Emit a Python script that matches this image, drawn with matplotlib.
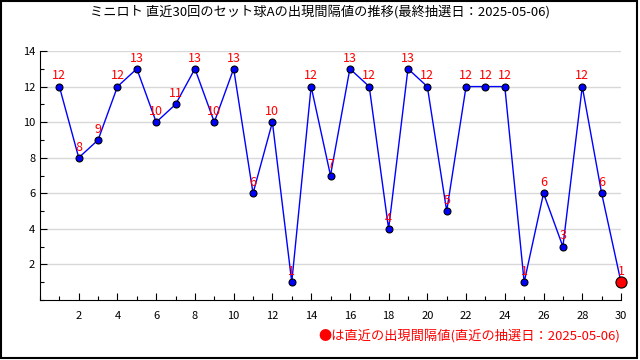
import matplotlib.pyplot as plt
from matplotlib.ticker import MultipleLocator
from matplotlib.patches import Rectangle

plt.rcParams['font.family'] = ['Noto Sans CJK JP', 'DejaVu Sans']

draw_no = list(range(1, 31))
interval = [12, 8, 9, 12, 13, 10, 11, 13, 10, 13, 6, 10, 1, 12, 7,
            13, 12, 4, 13, 12, 5, 12, 12, 12, 1, 6, 3, 12, 6, 1]
title = "ミニロト 直近30回のセット球Aの出現間隔値の推移(最終抽選日：2025-05-06)"
note = "●は直近の出現間隔値(直近の抽選日：2025-05-06)"

fig = plt.figure(figsize=(6.4, 3.6), dpi=100)
ax = fig.add_axes([40 / 640, 1 - 300 / 360, 581 / 640, 249 / 360])

# outer frame round the whole picture
fig.patches.append(Rectangle((0.8 / 640, 2 / 360), 636 / 640, 357 / 360,
                             transform=fig.transFigure, fill=False,
                             edgecolor='black', linewidth=1.5))

ax.plot(draw_no, interval, color='blue', linewidth=1, zorder=3)
ax.plot(draw_no[:-1], interval[:-1], 'o', color='blue', markeredgecolor='black',
        markersize=5, markeredgewidth=0.8, zorder=4)
ax.plot(draw_no[-1:], interval[-1:], 'o', color='red', markeredgecolor='black',
        markersize=8, markeredgewidth=0.8, zorder=5, clip_on=False)

for x, y in zip(draw_no, interval):
    ax.annotate(str(y), (x, y), xytext=(0, 3), textcoords='offset points',
                ha='center', va='bottom', color='red', fontsize=9, zorder=6)

ax.set_xlim(0, 30)
ax.set_ylim(0, 14)
ax.set_xticks(list(range(2, 31, 2)))
ax.xaxis.set_minor_locator(MultipleLocator(1))
ax.set_yticks([2, 4, 6, 8, 10, 12, 14])
ax.yaxis.set_minor_locator(MultipleLocator(1))
ax.tick_params(which='both', direction='in', labelsize=8, width=0.8)
ax.tick_params(which='major', length=5)
ax.tick_params(which='minor', length=3)
ax.tick_params(axis='x', pad=8)
ax.spines['top'].set_visible(False)
ax.spines['right'].set_visible(False)
ax.grid(axis='y', color='#d8d8d8', linewidth=1, zorder=0)
ax.set_axisbelow(True)

fig.text(0.5, 1 - 12 / 360, title, ha='center', va='center', fontsize=9.5)
fig.text(620 / 640, 1 - 336 / 360, note, ha='right', va='center',
         color='red', fontsize=9.5)

fig.savefig('out.png', dpi=100)
